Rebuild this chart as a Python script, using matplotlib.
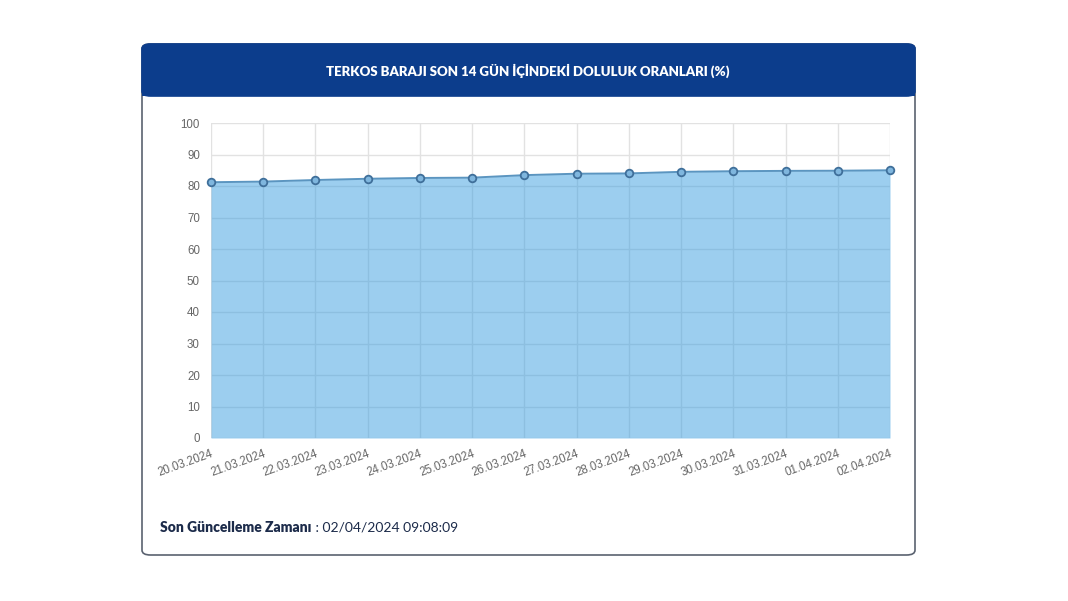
import matplotlib
matplotlib.use("Agg")
import matplotlib.pyplot as plt
from matplotlib.patches import FancyBboxPatch, Rectangle

dates = ["20.03.2024", "21.03.2024", "22.03.2024", "23.03.2024", "24.03.2024",
         "25.03.2024", "26.03.2024", "27.03.2024", "28.03.2024", "29.03.2024",
         "30.03.2024", "31.03.2024", "01.04.2024", "02.04.2024"]
doluluk = [81.2, 81.4, 81.9, 82.3, 82.55, 82.65, 83.45, 83.9, 84.0,
           84.5, 84.7, 84.8, 84.85, 85.0]
y_ticks = list(range(0, 101, 10))

W, H = 1068, 601
fig = plt.figure(figsize=(W / 100, H / 100), dpi=100)
fig.patch.set_facecolor("white")


def fx(px):
    return px / W


def fy(py):
    return 1 - py / H


# card frame
card = FancyBboxPatch((fx(142), fy(555)), fx(915) - fx(142), fy(44) - fy(555),
                      boxstyle="round,pad=0,rounding_size=0.008",
                      transform=fig.transFigure, facecolor="white",
                      edgecolor="#5a6270", linewidth=1.2, zorder=0)
fig.patches.append(card)
header = FancyBboxPatch((fx(142), fy(96)), fx(915) - fx(142), fy(44) - fy(96),
                        boxstyle="round,pad=0,rounding_size=0.008",
                        transform=fig.transFigure, facecolor="#0c3d8c",
                        edgecolor="#0c3d8c", linewidth=1.2, zorder=1)
fig.patches.append(header)
fig.patches.append(Rectangle((fx(142), fy(96)), fx(915) - fx(142), fy(80) - fy(96),
                             transform=fig.transFigure, facecolor="#0c3d8c",
                             edgecolor="none", zorder=1))
fig.text(fx(528), fy(71), "TERKOS BARAJI SON 14 GÜN İÇİNDEKİ DOLULUK ORANLARI (%)",
         ha="center", va="center", color="white", fontsize=9.5,
         fontweight="heavy", family=["Lato", "DejaVu Sans"])

ax = fig.add_axes([fx(211), fy(438), fx(890) - fx(211), fy(123) - fy(438)])
ax.set_zorder(5)
ax.patch.set_alpha(0)
x = list(range(len(dates)))
ax.fill_between(x, doluluk, 0, color="#3a9ee0", alpha=0.5, linewidth=0, zorder=2)
ax.plot(x, doluluk, color="#5b95c0", linewidth=1.4, zorder=3)
ax.scatter(x, doluluk, s=30, facecolor="#7fb6de", edgecolor="#3f6f9a",
           linewidths=1.3, zorder=4, clip_on=False)

ax.set_xlim(0, len(dates) - 1)
ax.set_ylim(0, 100)
ax.set_yticks(y_ticks)
ax.set_xticks(x)
ax.set_xticklabels(dates, rotation=20, ha="right", rotation_mode="anchor")
ax.grid(True, color="#e2e2e2", linewidth=1.0)
ax.set_axisbelow(True)
for s in ax.spines.values():
    s.set_visible(False)
ax.tick_params(axis="both", length=0, labelsize=8.3, labelcolor="#666666",
               labelfontfamily="Liberation Sans")
ax.tick_params(axis="y", pad=8)
ax.tick_params(axis="x", pad=7)

t1 = fig.text(fx(160), fy(527), "Son Güncelleme Zamanı", ha="left", va="center",
              color="#1c2b4a", fontsize=10, fontweight="heavy",
              family=["Lato", "DejaVu Sans"])
fig.canvas.draw()
bb = t1.get_window_extent()
fig.text(bb.x1 / W + 0.001, fy(527), " : 02/04/2024 09:08:09", ha="left",
         va="center", color="#1c2b4a", fontsize=10, family=["Lato", "DejaVu Sans"])

fig.savefig("out.png", dpi=100)
